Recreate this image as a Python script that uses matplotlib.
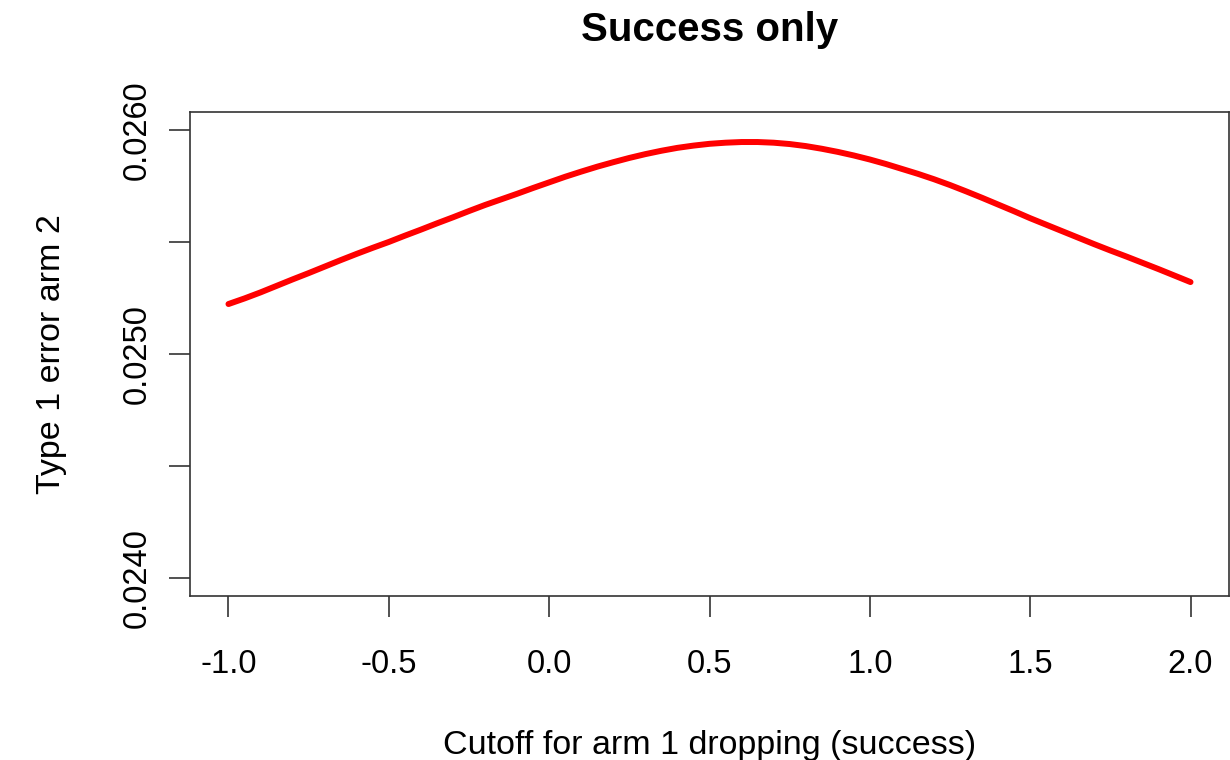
import matplotlib

matplotlib.use("Agg")
import matplotlib.pyplot as plt

plt.rcParams["font.family"] = ["Liberation Sans", "DejaVu Sans"]

# cutoff values and the matching type 1 error for arm 2
cutoff = [-1.00, -0.95, -0.90, -0.85, -0.80, -0.75, -0.70, -0.65, -0.60,
          -0.55, -0.50, -0.45, -0.40, -0.35, -0.30, -0.25, -0.20, -0.15,
          -0.10, -0.05, 0.00, 0.05, 0.10, 0.15, 0.20, 0.25, 0.30, 0.35,
          0.40, 0.45, 0.50, 0.55, 0.60, 0.65, 0.70, 0.75, 0.80, 0.85,
          0.90, 0.95, 1.00, 1.05, 1.10, 1.15, 1.20, 1.25, 1.30, 1.35,
          1.40, 1.45, 1.50, 1.55, 1.60, 1.65, 1.70, 1.75, 1.80, 1.85,
          1.90, 1.95, 2.00]
type1_err = [0.025223, 0.025248, 0.025275, 0.025304, 0.025333, 0.025361,
             0.025390, 0.025419, 0.025447, 0.025474, 0.025500, 0.025528,
             0.025555, 0.025583, 0.025610, 0.025638, 0.025665, 0.025690,
             0.025715, 0.025741, 0.025766, 0.025791, 0.025814, 0.025836,
             0.025856, 0.025875, 0.025892, 0.025907, 0.025920, 0.025930,
             0.025938, 0.025943, 0.025946, 0.025946, 0.025943, 0.025937,
             0.025928, 0.025916, 0.025902, 0.025886, 0.025868, 0.025848,
             0.025826, 0.025804, 0.025780, 0.025754, 0.025726, 0.025697,
             0.025667, 0.025637, 0.025606, 0.025577, 0.025548, 0.025519,
             0.025490, 0.025462, 0.025435, 0.025407, 0.025379, 0.025350,
             0.025321]
x_ticks = [-1.0, -0.5, 0.0, 0.5, 1.0, 1.5, 2.0]
y_ticks = [0.0240, 0.0245, 0.0250, 0.0255, 0.0260]
y_labels = ["0.0240", "", "0.0250", "", "0.0260"]

fig = plt.figure(figsize=(12.3, 7.6), dpi=100)
ax = fig.add_axes([190 / 1230, 1 - 596 / 760, 1039 / 1230, 484 / 760])

ax.plot(cutoff, type1_err, color="red", lw=4.3,
        solid_capstyle="round", solid_joinstyle="round")

ax.set_xlim(-1.12, 2.12)
ax.set_ylim(0.02392, 0.02608)
ax.set_xticks(x_ticks)
ax.set_xticklabels([f"{v:.1f}" for v in x_ticks])
ax.set_yticks(y_ticks)
ax.set_yticklabels(y_labels, rotation=90, va="center")

for s in ax.spines.values():
    s.set_linewidth(1.2)
    s.set_color("#333333")
ax.tick_params(axis="both", direction="out", length=15, width=1.2,
               color="#333333", labelsize=23.5)
ax.tick_params(axis="x", pad=23)
ax.tick_params(axis="y", pad=12)

ax.set_xlabel("Cutoff for arm 1 dropping (success)", fontsize=24.5, labelpad=36)
ax.set_ylabel("Type 1 error arm 2", fontsize=24.5, labelpad=39)
ax.set_title("Success only", fontsize=29, fontweight="bold", pad=51)

fig.savefig("out.png", dpi=100)
